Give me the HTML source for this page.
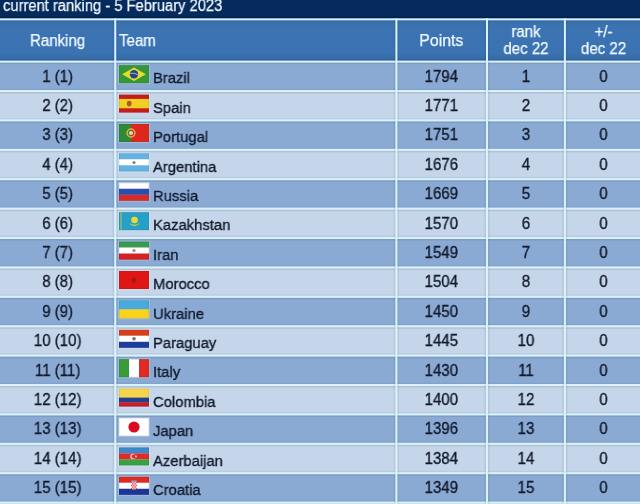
<!DOCTYPE html>
<html><head><meta charset="utf-8"><style>
html,body{margin:0;padding:0;}
body{width:640px;height:504px;overflow:hidden;position:relative;background:#8aaad4;font-family:"Liberation Sans",sans-serif;}
.a{position:absolute;}
.t{position:absolute;white-space:nowrap;font-size:16px;line-height:20px;color:#121a2c;-webkit-text-stroke:0.35px currentColor;transform:scaleX(0.94);transform-origin:50% 50%;will-change:transform;}
.l{transform-origin:0 50%;}
.w{color:#f2faff;-webkit-text-stroke:0.25px currentColor;}
.c{text-align:center;}
svg{position:absolute;display:block;}
</style></head><body>

<svg style="left:0;top:0" width="640" height="504" viewBox="0 0 640 504"><rect x="0" y="0" width="640" height="18.4" fill="#052a5c"/><rect x="0" y="16.8" width="640" height="1.6" fill="#021e4e"/><defs><linearGradient id="hg" x1="0" y1="0" x2="0" y2="1"><stop offset="0" stop-color="#33669c"/><stop offset="0.1" stop-color="#3a70ae"/><stop offset="0.2" stop-color="#3b73b3"/><stop offset="0.8" stop-color="#3b72b2"/><stop offset="0.92" stop-color="#376ca8"/><stop offset="1" stop-color="#33649a"/></linearGradient><filter id="fb" x="-10%" y="-10%" width="120%" height="120%"><feGaussianBlur stdDeviation="0.3"/></filter></defs><rect x="0" y="18.4" width="640" height="43.20" fill="url(#hg)"/><rect x="0" y="61.60" width="640" height="29.40" fill="#8aaad4"/><rect x="0" y="91.00" width="640" height="29.40" fill="#c5d5ea"/><rect x="0" y="120.40" width="640" height="29.40" fill="#8aaad4"/><rect x="0" y="149.80" width="640" height="29.40" fill="#c5d5ea"/><rect x="0" y="179.20" width="640" height="29.40" fill="#8aaad4"/><rect x="0" y="208.60" width="640" height="29.40" fill="#c5d5ea"/><rect x="0" y="238.00" width="640" height="29.40" fill="#8aaad4"/><rect x="0" y="267.40" width="640" height="29.40" fill="#c5d5ea"/><rect x="0" y="296.80" width="640" height="29.40" fill="#8aaad4"/><rect x="0" y="326.20" width="640" height="29.40" fill="#c5d5ea"/><rect x="0" y="355.60" width="640" height="29.40" fill="#8aaad4"/><rect x="0" y="385.00" width="640" height="29.40" fill="#c5d5ea"/><rect x="0" y="414.40" width="640" height="29.40" fill="#8aaad4"/><rect x="0" y="443.80" width="640" height="29.40" fill="#c5d5ea"/><rect x="0" y="473.20" width="640" height="29.40" fill="#8aaad4"/><rect x="0" y="502.60" width="640" height="29.40" fill="#c5d5ea"/><rect x="0" y="59.20" width="640" height="1.4" fill="#00143c" fill-opacity="0.05"/><rect x="0" y="62.60" width="640" height="1.6" fill="#283246" fill-opacity="0.12"/><rect x="0" y="88.60" width="640" height="1.4" fill="#00143c" fill-opacity="0.05"/><rect x="0" y="92.00" width="640" height="1.6" fill="#283246" fill-opacity="0.12"/><rect x="0" y="118.00" width="640" height="1.4" fill="#00143c" fill-opacity="0.05"/><rect x="0" y="121.40" width="640" height="1.6" fill="#283246" fill-opacity="0.12"/><rect x="0" y="147.40" width="640" height="1.4" fill="#00143c" fill-opacity="0.05"/><rect x="0" y="150.80" width="640" height="1.6" fill="#283246" fill-opacity="0.12"/><rect x="0" y="176.80" width="640" height="1.4" fill="#00143c" fill-opacity="0.05"/><rect x="0" y="180.20" width="640" height="1.6" fill="#283246" fill-opacity="0.12"/><rect x="0" y="206.20" width="640" height="1.4" fill="#00143c" fill-opacity="0.05"/><rect x="0" y="209.60" width="640" height="1.6" fill="#283246" fill-opacity="0.12"/><rect x="0" y="235.60" width="640" height="1.4" fill="#00143c" fill-opacity="0.05"/><rect x="0" y="239.00" width="640" height="1.6" fill="#283246" fill-opacity="0.12"/><rect x="0" y="265.00" width="640" height="1.4" fill="#00143c" fill-opacity="0.05"/><rect x="0" y="268.40" width="640" height="1.6" fill="#283246" fill-opacity="0.12"/><rect x="0" y="294.40" width="640" height="1.4" fill="#00143c" fill-opacity="0.05"/><rect x="0" y="297.80" width="640" height="1.6" fill="#283246" fill-opacity="0.12"/><rect x="0" y="323.80" width="640" height="1.4" fill="#00143c" fill-opacity="0.05"/><rect x="0" y="327.20" width="640" height="1.6" fill="#283246" fill-opacity="0.12"/><rect x="0" y="353.20" width="640" height="1.4" fill="#00143c" fill-opacity="0.05"/><rect x="0" y="356.60" width="640" height="1.6" fill="#283246" fill-opacity="0.12"/><rect x="0" y="382.60" width="640" height="1.4" fill="#00143c" fill-opacity="0.05"/><rect x="0" y="386.00" width="640" height="1.6" fill="#283246" fill-opacity="0.12"/><rect x="0" y="412.00" width="640" height="1.4" fill="#00143c" fill-opacity="0.05"/><rect x="0" y="415.40" width="640" height="1.6" fill="#283246" fill-opacity="0.12"/><rect x="0" y="441.40" width="640" height="1.4" fill="#00143c" fill-opacity="0.05"/><rect x="0" y="444.80" width="640" height="1.6" fill="#283246" fill-opacity="0.12"/><rect x="0" y="470.80" width="640" height="1.4" fill="#00143c" fill-opacity="0.05"/><rect x="0" y="474.20" width="640" height="1.6" fill="#283246" fill-opacity="0.12"/><rect x="0" y="500.20" width="640" height="1.4" fill="#00143c" fill-opacity="0.05"/><rect x="0" y="503.60" width="640" height="1.6" fill="#283246" fill-opacity="0.12"/><rect x="0" y="18.4" width="640" height="1.9" fill="#d8f3fb"/><rect x="0" y="60.60" width="640" height="2" fill="#d8f3fb"/><rect x="0" y="90.00" width="640" height="2" fill="#d8f3fb"/><rect x="0" y="119.40" width="640" height="2" fill="#d8f3fb"/><rect x="0" y="148.80" width="640" height="2" fill="#d8f3fb"/><rect x="0" y="178.20" width="640" height="2" fill="#d8f3fb"/><rect x="0" y="207.60" width="640" height="2" fill="#d8f3fb"/><rect x="0" y="237.00" width="640" height="2" fill="#d8f3fb"/><rect x="0" y="266.40" width="640" height="2" fill="#d8f3fb"/><rect x="0" y="295.80" width="640" height="2" fill="#d8f3fb"/><rect x="0" y="325.20" width="640" height="2" fill="#d8f3fb"/><rect x="0" y="354.60" width="640" height="2" fill="#d8f3fb"/><rect x="0" y="384.00" width="640" height="2" fill="#d8f3fb"/><rect x="0" y="413.40" width="640" height="2" fill="#d8f3fb"/><rect x="0" y="442.80" width="640" height="2" fill="#d8f3fb"/><rect x="0" y="472.20" width="640" height="2" fill="#d8f3fb"/><rect x="0" y="501.60" width="640" height="2" fill="#d8f3fb"/><rect x="112.65" y="20.3" width="1.6" height="486" fill="#283246" fill-opacity="0.08"/><rect x="116.25" y="20.3" width="1.6" height="486" fill="#283246" fill-opacity="0.08"/><rect x="114.25" y="18.4" width="2" height="486" fill="#d8f3fb"/><rect x="393.80" y="20.3" width="1.6" height="486" fill="#283246" fill-opacity="0.08"/><rect x="397.40" y="20.3" width="1.6" height="486" fill="#283246" fill-opacity="0.08"/><rect x="395.40" y="18.4" width="2" height="486" fill="#d8f3fb"/><rect x="484.40" y="20.3" width="1.6" height="486" fill="#283246" fill-opacity="0.08"/><rect x="488.00" y="20.3" width="1.6" height="486" fill="#283246" fill-opacity="0.08"/><rect x="486.00" y="18.4" width="2" height="486" fill="#d8f3fb"/><rect x="562.30" y="20.3" width="1.6" height="486" fill="#283246" fill-opacity="0.08"/><rect x="565.90" y="20.3" width="1.6" height="486" fill="#283246" fill-opacity="0.08"/><rect x="563.90" y="18.4" width="2" height="486" fill="#d8f3fb"/><g transform="translate(119 65.20)" filter="url(#fb)"><rect x="-0.8" y="-0.8" width="31.6" height="19.6" fill="#ffffff" fill-opacity="0.25"/><rect width="30" height="18" fill="#369838"/><path d="M3.2 9 L15 2.2 L26.8 9 L15 15.8Z" fill="#e6dc2c"/><circle cx="15" cy="9" r="4.2" fill="#22458c"/><path d="M10.9 8.2 Q15 7.2 19.1 9.6" stroke="#d8e0e8" stroke-width="0.7" fill="none"/><rect x="0.35" y="0.35" width="29.3" height="17.3" fill="none" stroke="#000000" stroke-opacity="0.10" stroke-width="0.7"/></g><g transform="translate(119 94.60)" filter="url(#fb)"><rect x="-0.8" y="-0.8" width="31.6" height="19.6" fill="#ffffff" fill-opacity="0.25"/><rect width="30" height="18" fill="#c81e1e"/><rect y="4.3" width="30" height="9.4" fill="#f2d024"/><ellipse cx="10.2" cy="9" rx="2.4" ry="2.8" fill="#a85a30"/><rect x="0.35" y="0.35" width="29.3" height="17.3" fill="none" stroke="#000000" stroke-opacity="0.10" stroke-width="0.7"/></g><g transform="translate(119 124.00)" filter="url(#fb)"><rect x="-0.8" y="-0.8" width="31.6" height="19.6" fill="#ffffff" fill-opacity="0.25"/><rect width="30" height="18" fill="#de281c"/><rect width="12" height="18" fill="#2e8a34"/><circle cx="12" cy="9" r="3.9" fill="none" stroke="#e0b040" stroke-width="1.5"/><circle cx="12" cy="9" r="2.1" fill="#e8d0c0"/><rect x="0.35" y="0.35" width="29.3" height="17.3" fill="none" stroke="#000000" stroke-opacity="0.10" stroke-width="0.7"/></g><g transform="translate(119 153.40)" filter="url(#fb)"><rect x="-0.8" y="-0.8" width="31.6" height="19.6" fill="#ffffff" fill-opacity="0.25"/><rect x="0" y="0.000" width="30" height="6.010" fill="#62b2e2"/><rect x="0" y="6.000" width="30" height="6.010" fill="#ffffff"/><rect x="0" y="12.000" width="30" height="6.010" fill="#62b2e2"/><circle cx="15" cy="9" r="1.5" fill="#8a7c60"/><rect x="0.35" y="0.35" width="29.3" height="17.3" fill="none" stroke="#000000" stroke-opacity="0.10" stroke-width="0.7"/></g><g transform="translate(119 182.80)" filter="url(#fb)"><rect x="-0.8" y="-0.8" width="31.6" height="19.6" fill="#ffffff" fill-opacity="0.25"/><rect x="0" y="0.000" width="30" height="6.010" fill="#ffffff"/><rect x="0" y="6.000" width="30" height="6.010" fill="#2850b0"/><rect x="0" y="12.000" width="30" height="6.010" fill="#d82a28"/><rect x="0.35" y="0.35" width="29.3" height="17.3" fill="none" stroke="#000000" stroke-opacity="0.10" stroke-width="0.7"/></g><g transform="translate(119 212.20)" filter="url(#fb)"><rect x="-0.8" y="-0.8" width="31.6" height="19.6" fill="#ffffff" fill-opacity="0.25"/><rect width="30" height="18" fill="#28a0c6"/><rect x="1.2" width="1.6" height="18" fill="#a8c060" opacity="0.7"/><circle cx="15.5" cy="7.8" r="3.3" fill="#eedc2a"/><path d="M10.5 10.8 Q15.5 14.5 20.5 10.8 L19.6 12.4 Q15.5 15.2 11.4 12.4Z" fill="#e0d030"/><rect x="0.35" y="0.35" width="29.3" height="17.3" fill="none" stroke="#000000" stroke-opacity="0.10" stroke-width="0.7"/></g><g transform="translate(119 241.60)" filter="url(#fb)"><rect x="-0.8" y="-0.8" width="31.6" height="19.6" fill="#ffffff" fill-opacity="0.25"/><rect x="0" y="0.000" width="30" height="6.010" fill="#3a9a50"/><rect x="0" y="6.000" width="30" height="6.010" fill="#ffffff"/><rect x="0" y="12.000" width="30" height="6.010" fill="#d82020"/><circle cx="15" cy="9" r="1.5" fill="#c87070"/><rect x="0.35" y="0.35" width="29.3" height="17.3" fill="none" stroke="#000000" stroke-opacity="0.10" stroke-width="0.7"/></g><g transform="translate(119 271.00)" filter="url(#fb)"><rect x="-0.8" y="-0.8" width="31.6" height="19.6" fill="#ffffff" fill-opacity="0.25"/><rect width="30" height="18" fill="#e01414"/><circle cx="15" cy="9" r="2.6" fill="#a81a0c"/><rect x="0.35" y="0.35" width="29.3" height="17.3" fill="none" stroke="#000000" stroke-opacity="0.10" stroke-width="0.7"/></g><g transform="translate(119 300.40)" filter="url(#fb)"><rect x="-0.8" y="-0.8" width="31.6" height="19.6" fill="#ffffff" fill-opacity="0.25"/><rect width="30" height="9" fill="#4aaade"/><rect y="9" width="30" height="9" fill="#f8d41c"/><rect x="0.35" y="0.35" width="29.3" height="17.3" fill="none" stroke="#000000" stroke-opacity="0.10" stroke-width="0.7"/></g><g transform="translate(119 329.80)" filter="url(#fb)"><rect x="-0.8" y="-0.8" width="31.6" height="19.6" fill="#ffffff" fill-opacity="0.25"/><rect x="0" y="0.000" width="30" height="6.010" fill="#d8401e"/><rect x="0" y="6.000" width="30" height="6.010" fill="#ffffff"/><rect x="0" y="12.000" width="30" height="6.010" fill="#1e3c9c"/><circle cx="15" cy="9" r="1.8" fill="#8a6a50"/><rect x="0.35" y="0.35" width="29.3" height="17.3" fill="none" stroke="#000000" stroke-opacity="0.10" stroke-width="0.7"/></g><g transform="translate(119 359.20)" filter="url(#fb)"><rect x="-0.8" y="-0.8" width="31.6" height="19.6" fill="#ffffff" fill-opacity="0.25"/><rect x="0.000" y="0" width="10.010" height="18" fill="#389a38"/><rect x="10.000" y="0" width="10.010" height="18" fill="#ffffff"/><rect x="20.000" y="0" width="10.010" height="18" fill="#e02a20"/><rect x="0.35" y="0.35" width="29.3" height="17.3" fill="none" stroke="#000000" stroke-opacity="0.10" stroke-width="0.7"/></g><g transform="translate(119 388.60)" filter="url(#fb)"><rect x="-0.8" y="-0.8" width="31.6" height="19.6" fill="#ffffff" fill-opacity="0.25"/><rect width="30" height="9" fill="#f8d448"/><rect y="9" width="30" height="4.5" fill="#20408c"/><rect y="13.5" width="30" height="4.5" fill="#c02030"/><rect x="0.35" y="0.35" width="29.3" height="17.3" fill="none" stroke="#000000" stroke-opacity="0.10" stroke-width="0.7"/></g><g transform="translate(119 418.00)" filter="url(#fb)"><rect x="-0.8" y="-0.8" width="31.6" height="19.6" fill="#ffffff" fill-opacity="0.25"/><rect width="30" height="18" fill="#ffffff"/><circle cx="15" cy="9" r="5.6" fill="#d81020"/><rect x="0.35" y="0.35" width="29.3" height="17.3" fill="none" stroke="#000000" stroke-opacity="0.10" stroke-width="0.7"/></g><g transform="translate(119 447.40)" filter="url(#fb)"><rect x="-0.8" y="-0.8" width="31.6" height="19.6" fill="#ffffff" fill-opacity="0.25"/><rect x="0" y="0.000" width="30" height="6.010" fill="#3a88cc"/><rect x="0" y="6.000" width="30" height="6.010" fill="#e02a2a"/><rect x="0" y="12.000" width="30" height="6.010" fill="#3aa040"/><circle cx="14" cy="9" r="2.7" fill="#f0d8d8"/><circle cx="14.9" cy="9" r="2.2" fill="#e02a2a"/><circle cx="17" cy="9" r="0.9" fill="#f0d8d8"/><rect x="0.35" y="0.35" width="29.3" height="17.3" fill="none" stroke="#000000" stroke-opacity="0.10" stroke-width="0.7"/></g><g transform="translate(119 476.80)" filter="url(#fb)"><rect x="-0.8" y="-0.8" width="31.6" height="19.6" fill="#ffffff" fill-opacity="0.25"/><rect x="0" y="0.000" width="30" height="6.010" fill="#e02a20"/><rect x="0" y="6.000" width="30" height="6.010" fill="#ffffff"/><rect x="0" y="12.000" width="30" height="6.010" fill="#1e3496"/><rect x="12.2" y="3.2" width="5.6" height="1.4" fill="#6a80c8"/><path d="M12.2 4.6 H17.8 V11.6 Q15 13.8 12.2 11.6Z" fill="#ffffff"/><rect x="12.20" y="4.60" width="1.12" height="1.60" fill="#e03028"/><rect x="14.44" y="4.60" width="1.12" height="1.60" fill="#e03028"/><rect x="16.68" y="4.60" width="1.12" height="1.60" fill="#e03028"/><rect x="13.32" y="6.20" width="1.12" height="1.60" fill="#e03028"/><rect x="15.56" y="6.20" width="1.12" height="1.60" fill="#e03028"/><rect x="12.20" y="7.80" width="1.12" height="1.60" fill="#e03028"/><rect x="14.44" y="7.80" width="1.12" height="1.60" fill="#e03028"/><rect x="16.68" y="7.80" width="1.12" height="1.60" fill="#e03028"/><rect x="13.32" y="9.40" width="1.12" height="1.60" fill="#e03028"/><rect x="15.56" y="9.40" width="1.12" height="1.60" fill="#e03028"/><rect x="12.20" y="11.00" width="1.12" height="1.60" fill="#e03028"/><rect x="14.44" y="11.00" width="1.12" height="1.60" fill="#e03028"/><rect x="16.68" y="11.00" width="1.12" height="1.60" fill="#e03028"/><rect x="0.35" y="0.35" width="29.3" height="17.3" fill="none" stroke="#000000" stroke-opacity="0.10" stroke-width="0.7"/></g></svg>
<div class="t w l" style="left:3.1px;top:-4.29px;transform:scaleX(0.92)">current ranking - 5 February 2023</div>
<div class="t w c" style="left:0.00px;width:115.25px;top:30.70px;">Ranking</div>
<div class="t w l" style="left:119.4px;top:30.7px;">Team</div>
<div class="t w c" style="left:396.40px;width:90.60px;top:30.70px;transform:scaleX(0.99)">Points</div>
<div class="t w c" style="left:487.00px;width:77.90px;top:22.10px;">rank</div>
<div class="t w c" style="left:487.00px;width:77.90px;top:38.90px;">dec 22</div>
<div class="t w c" style="left:564.90px;width:77.10px;top:22.10px;">+/-</div>
<div class="t w c" style="left:564.90px;width:77.10px;top:38.90px;">dec 22</div>
<div class="t c" style="left:0.00px;width:115.25px;top:66.60px;">1 (1)</div>
<div class="t l" style="left:152.8px;top:68.40px;font-size:15.5px;transform:scaleX(0.955)">Brazil</div>
<div class="t c" style="left:396.40px;width:90.60px;top:66.60px;">1794</div>
<div class="t c" style="left:487.00px;width:77.90px;top:66.60px;">1</div>
<div class="t c" style="left:564.90px;width:77.10px;top:66.60px;">0</div>
<div class="t c" style="left:0.00px;width:115.25px;top:96.00px;">2 (2)</div>
<div class="t l" style="left:152.8px;top:97.80px;font-size:15.5px;transform:scaleX(0.955)">Spain</div>
<div class="t c" style="left:396.40px;width:90.60px;top:96.00px;">1771</div>
<div class="t c" style="left:487.00px;width:77.90px;top:96.00px;">2</div>
<div class="t c" style="left:564.90px;width:77.10px;top:96.00px;">0</div>
<div class="t c" style="left:0.00px;width:115.25px;top:125.40px;">3 (3)</div>
<div class="t l" style="left:152.8px;top:127.20px;font-size:15.5px;transform:scaleX(0.955)">Portugal</div>
<div class="t c" style="left:396.40px;width:90.60px;top:125.40px;">1751</div>
<div class="t c" style="left:487.00px;width:77.90px;top:125.40px;">3</div>
<div class="t c" style="left:564.90px;width:77.10px;top:125.40px;">0</div>
<div class="t c" style="left:0.00px;width:115.25px;top:154.80px;">4 (4)</div>
<div class="t l" style="left:152.8px;top:156.60px;font-size:15.5px;transform:scaleX(0.955)">Argentina</div>
<div class="t c" style="left:396.40px;width:90.60px;top:154.80px;">1676</div>
<div class="t c" style="left:487.00px;width:77.90px;top:154.80px;">4</div>
<div class="t c" style="left:564.90px;width:77.10px;top:154.80px;">0</div>
<div class="t c" style="left:0.00px;width:115.25px;top:184.20px;">5 (5)</div>
<div class="t l" style="left:152.8px;top:186.00px;font-size:15.5px;transform:scaleX(0.955)">Russia</div>
<div class="t c" style="left:396.40px;width:90.60px;top:184.20px;">1669</div>
<div class="t c" style="left:487.00px;width:77.90px;top:184.20px;">5</div>
<div class="t c" style="left:564.90px;width:77.10px;top:184.20px;">0</div>
<div class="t c" style="left:0.00px;width:115.25px;top:213.60px;">6 (6)</div>
<div class="t l" style="left:152.8px;top:215.40px;font-size:15.5px;transform:scaleX(0.955)">Kazakhstan</div>
<div class="t c" style="left:396.40px;width:90.60px;top:213.60px;">1570</div>
<div class="t c" style="left:487.00px;width:77.90px;top:213.60px;">6</div>
<div class="t c" style="left:564.90px;width:77.10px;top:213.60px;">0</div>
<div class="t c" style="left:0.00px;width:115.25px;top:243.00px;">7 (7)</div>
<div class="t l" style="left:152.8px;top:244.80px;font-size:15.5px;transform:scaleX(0.955)">Iran</div>
<div class="t c" style="left:396.40px;width:90.60px;top:243.00px;">1549</div>
<div class="t c" style="left:487.00px;width:77.90px;top:243.00px;">7</div>
<div class="t c" style="left:564.90px;width:77.10px;top:243.00px;">0</div>
<div class="t c" style="left:0.00px;width:115.25px;top:272.40px;">8 (8)</div>
<div class="t l" style="left:152.8px;top:274.20px;font-size:15.5px;transform:scaleX(0.955)">Morocco</div>
<div class="t c" style="left:396.40px;width:90.60px;top:272.40px;">1504</div>
<div class="t c" style="left:487.00px;width:77.90px;top:272.40px;">8</div>
<div class="t c" style="left:564.90px;width:77.10px;top:272.40px;">0</div>
<div class="t c" style="left:0.00px;width:115.25px;top:301.80px;">9 (9)</div>
<div class="t l" style="left:152.8px;top:303.60px;font-size:15.5px;transform:scaleX(0.955)">Ukraine</div>
<div class="t c" style="left:396.40px;width:90.60px;top:301.80px;">1450</div>
<div class="t c" style="left:487.00px;width:77.90px;top:301.80px;">9</div>
<div class="t c" style="left:564.90px;width:77.10px;top:301.80px;">0</div>
<div class="t c" style="left:0.00px;width:115.25px;top:331.20px;">10 (10)</div>
<div class="t l" style="left:152.8px;top:333.00px;font-size:15.5px;transform:scaleX(0.955)">Paraguay</div>
<div class="t c" style="left:396.40px;width:90.60px;top:331.20px;">1445</div>
<div class="t c" style="left:487.00px;width:77.90px;top:331.20px;">10</div>
<div class="t c" style="left:564.90px;width:77.10px;top:331.20px;">0</div>
<div class="t c" style="left:0.00px;width:115.25px;top:360.60px;">11 (11)</div>
<div class="t l" style="left:152.8px;top:362.40px;font-size:15.5px;transform:scaleX(0.955)">Italy</div>
<div class="t c" style="left:396.40px;width:90.60px;top:360.60px;">1430</div>
<div class="t c" style="left:487.00px;width:77.90px;top:360.60px;">11</div>
<div class="t c" style="left:564.90px;width:77.10px;top:360.60px;">0</div>
<div class="t c" style="left:0.00px;width:115.25px;top:390.00px;">12 (12)</div>
<div class="t l" style="left:152.8px;top:391.80px;font-size:15.5px;transform:scaleX(0.955)">Colombia</div>
<div class="t c" style="left:396.40px;width:90.60px;top:390.00px;">1400</div>
<div class="t c" style="left:487.00px;width:77.90px;top:390.00px;">12</div>
<div class="t c" style="left:564.90px;width:77.10px;top:390.00px;">0</div>
<div class="t c" style="left:0.00px;width:115.25px;top:419.40px;">13 (13)</div>
<div class="t l" style="left:152.8px;top:421.20px;font-size:15.5px;transform:scaleX(0.955)">Japan</div>
<div class="t c" style="left:396.40px;width:90.60px;top:419.40px;">1396</div>
<div class="t c" style="left:487.00px;width:77.90px;top:419.40px;">13</div>
<div class="t c" style="left:564.90px;width:77.10px;top:419.40px;">0</div>
<div class="t c" style="left:0.00px;width:115.25px;top:448.80px;">14 (14)</div>
<div class="t l" style="left:152.8px;top:450.60px;font-size:15.5px;transform:scaleX(0.955)">Azerbaijan</div>
<div class="t c" style="left:396.40px;width:90.60px;top:448.80px;">1384</div>
<div class="t c" style="left:487.00px;width:77.90px;top:448.80px;">14</div>
<div class="t c" style="left:564.90px;width:77.10px;top:448.80px;">0</div>
<div class="t c" style="left:0.00px;width:115.25px;top:478.20px;">15 (15)</div>
<div class="t l" style="left:152.8px;top:480.00px;font-size:15.5px;transform:scaleX(0.955)">Croatia</div>
<div class="t c" style="left:396.40px;width:90.60px;top:478.20px;">1349</div>
<div class="t c" style="left:487.00px;width:77.90px;top:478.20px;">15</div>
<div class="t c" style="left:564.90px;width:77.10px;top:478.20px;">0</div>
</body></html>
